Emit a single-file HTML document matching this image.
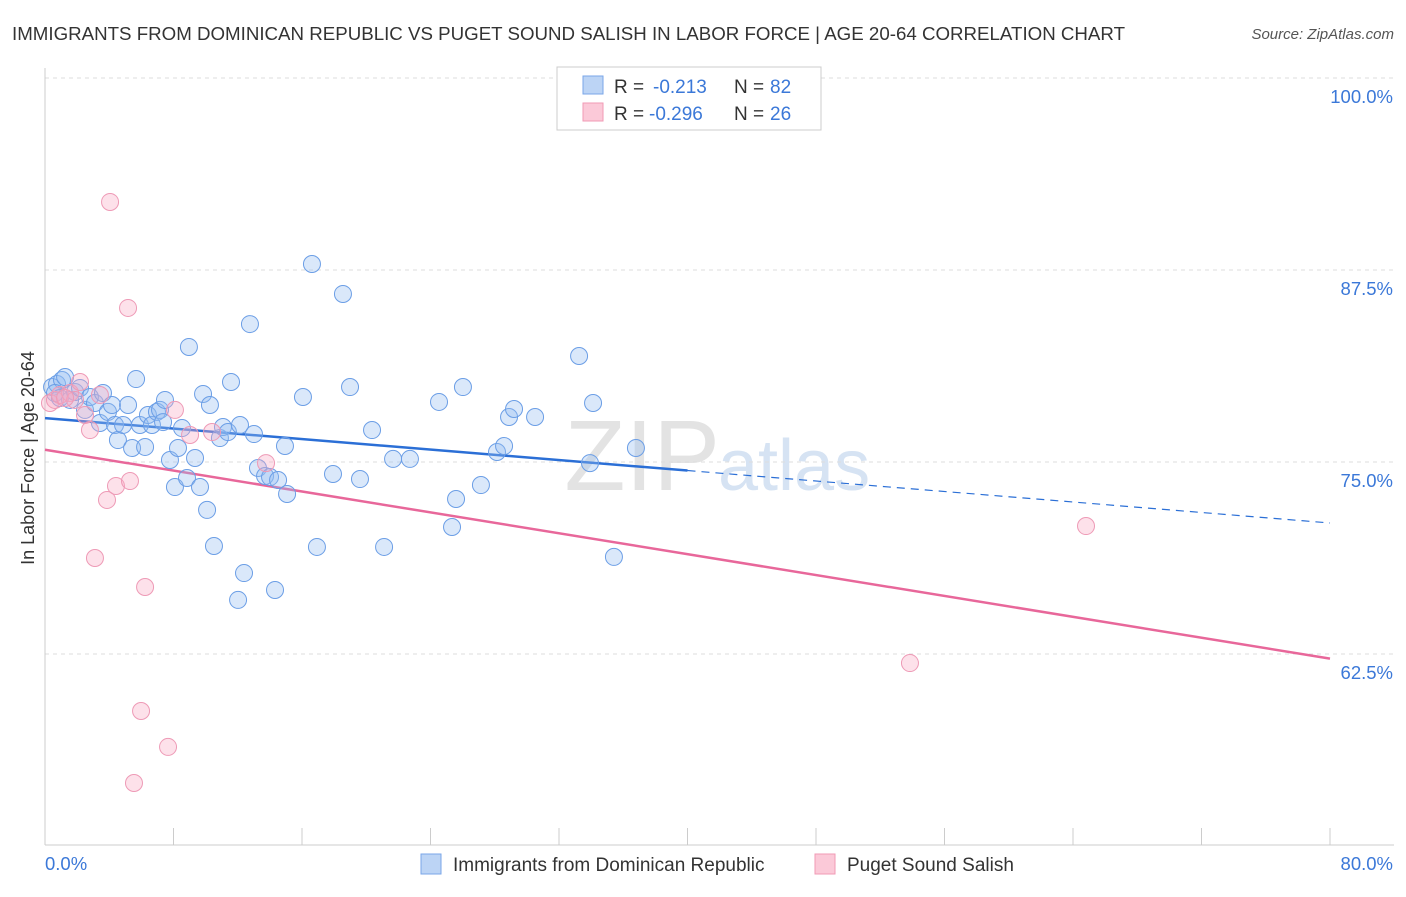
<!DOCTYPE html>
<html><head><meta charset="utf-8"><style>
body{margin:0;background:#fff;font-family:"Liberation Sans",sans-serif;}
svg text{font-family:"Liberation Sans",sans-serif;}
</style></head><body>
<svg id="chart" width="1406" height="892" viewBox="0 0 1406 892" xmlns="http://www.w3.org/2000/svg">
<text x="12" y="40" font-size="18" fill="#333" textLength="1113" lengthAdjust="spacingAndGlyphs">IMMIGRANTS FROM DOMINICAN REPUBLIC VS PUGET SOUND SALISH IN LABOR FORCE | AGE 20-64 CORRELATION CHART</text>
<text x="1394" y="39" font-size="15" fill="#555" font-style="italic" text-anchor="end">Source: ZipAtlas.com</text>
<text x="720" y="490" font-size="100" fill="#e3e3e3" text-anchor="end" font-family="Liberation Serif">ZIP</text>
<text x="718" y="490" font-size="72" fill="#d6e3f3">atlas</text>
<g id="grid"></g><g id="axes"></g><g id="lines"></g><g id="pts"></g>
<text transform="translate(34,458) rotate(-90)" font-size="18" fill="#333" text-anchor="middle">In Labor Force | Age 20-64</text>
<g>
<rect x="557" y="67" width="264" height="63" fill="#fff" stroke="#ccc"/>
<rect x="583" y="76" width="20" height="18" fill="#bcd4f5" stroke="#7aa6e8"/>
<rect x="583" y="103" width="20" height="18" fill="#fbc9d8" stroke="#f09ab5"/>
<text x="614" y="93" font-size="19" fill="#333">R =</text>
<text x="653" y="93" font-size="19" fill="#3b78d8">-0.213</text>
<text x="734" y="93" font-size="19" fill="#333">N =</text>
<text x="770" y="93" font-size="19" fill="#3b78d8">82</text>
<text x="614" y="120" font-size="19" fill="#333">R =</text>
<text x="649" y="120" font-size="19" fill="#3b78d8">-0.296</text>
<text x="734" y="120" font-size="19" fill="#333">N =</text>
<text x="770" y="120" font-size="19" fill="#3b78d8">26</text>
</g>
<g>
<rect x="421" y="854" width="20" height="20" fill="#bcd4f5" stroke="#7aa6e8"/>
<text x="453" y="871" font-size="19" fill="#333">Immigrants from Dominican Republic</text>
<rect x="815" y="854" width="20" height="20" fill="#fbc9d8" stroke="#f09ab5"/>
<text x="847" y="871" font-size="19" fill="#333">Puget Sound Salish</text>
</g>
</svg>
<script>
const yTicks=[100,87.5,75,62.5];
const yTickLabels=["100.0%","87.5%","75.0%","62.5%"];
const xTickCount=10;
const xLabels=["0.0%","80.0%"];
const bluePx=[[52,387],[57,384],[62,380],[65,377],[55,393],[60,398],[70,400],[75,392],[80,388],[85,410],[90,397],[95,403],[100,423],[103,393],[108,412],[112,405],[115,425],[118,440],[123,425],[128,405],[132,448],[136,379],[140,425],[145,447],[148,415],[152,425],[157,412],[160,410],[163,422],[165,400],[170,460],[175,487],[178,448],[182,428],[187,478],[189,347],[195,458],[200,487],[203,394],[207,510],[210,405],[214,546],[220,438],[223,427],[228,432],[231,382],[238,600],[240,425],[244,573],[250,324],[254,434],[258,468],[265,476],[270,477],[275,590],[278,480],[285,446],[287,494],[303,397],[312,264],[317,547],[333,474],[343,294],[350,387],[360,479],[372,430],[384,547],[393,459],[410,459],[439,402],[452,527],[456,499],[463,387],[481,485],[497,452],[504,446],[509,417],[514,409],[535,417],[579,356],[590,463],[593,403],[614,557],[636,448]];
const pinkPx=[[50,403],[55,400],[60,395],[70,393],[75,400],[80,382],[85,415],[90,430],[107,500],[110,202],[116,486],[95,558],[128,308],[130,481],[141,711],[145,587],[134,783],[168,747],[175,410],[190,435],[212,432],[266,463],[1086,526],[910,663],[100,395],[65,398]];
const toX=p=>(p-45)/1285*80, toY=p=>100-(p-78)/192*12.5;
const blueX=bluePx.map(p=>+toX(p[0]).toFixed(2)), blueY=bluePx.map(p=>+toY(p[1]).toFixed(2));
const pinkX=pinkPx.map(p=>+toX(p[0]).toFixed(2)), pinkY=pinkPx.map(p=>+toY(p[1]).toFixed(2));
const blueTrend=[77.86,71.03]; const pinkTrend=[75.8,62.2];
const sx=v=>45+v/80*1285, sy=v=>78+(100-v)/12.5*192;
const NS="http://www.w3.org/2000/svg";
function mk(t,a,parent){const e=document.createElementNS(NS,t);for(const k in a)e.setAttribute(k,a[k]);document.getElementById(parent).appendChild(e);return e;}
yTicks.forEach((t,i)=>{
 const l=mk('line',{x1:45,x2:1394,y1:sy(t),y2:sy(t),stroke:'#ddd','stroke-dasharray':'4,4'},'grid');
 
 
 const tx=mk('text',{x:1393,y:sy(t)+25,'font-size':18.5,fill:'#3b78d8','text-anchor':'end'},'grid');tx.textContent=yTickLabels[i];
 
 
});
const ax=mk('line',{x1:45,x2:45,y1:68,y2:845,stroke:'#ccc'},'axes');


const bx=mk('line',{x1:45,x2:1394,y1:845,y2:845,stroke:'#ccc'},'axes');


for(let i=0;i<=xTickCount;i++){const v=i*80/xTickCount;const t=mk('line',{x1:sx(v),x2:sx(v),y1:828,y2:845,stroke:'#ccc'},'axes');
 
 }
[[0,'start',45],[80,'end',1393]].forEach((d,i)=>{const t=mk('text',{x:d[2],y:870,'font-size':18.5,fill:'#3b78d8','text-anchor':d[1]},'axes');t.textContent=xLabels[i];
 
 });
function trend(a,xEnd,col,dashFrom,name){
 const y=x=>a[0]+(a[1]-a[0])*x/80;
 if(dashFrom){
  const l1=mk('line',{x1:sx(0),y1:sy(y(0)),x2:sx(dashFrom),y2:sy(y(dashFrom)),stroke:col,'stroke-width':2.5},'lines');
  
  
  const l2=mk('line',{x1:sx(dashFrom),y1:sy(y(dashFrom)),x2:sx(xEnd),y2:sy(y(xEnd)),stroke:col,'stroke-width':1.2,'stroke-dasharray':'8,6'},'lines');
  
  
 } else {
  const l=mk('line',{x1:sx(0),y1:sy(y(0)),x2:sx(xEnd),y2:sy(y(xEnd)),stroke:col,'stroke-width':2.5},'lines');
  
  
 }
}
function pts(X,Y,fill,stroke,name){X.forEach((x,i)=>{const c=mk('circle',{cx:sx(x),cy:sy(Y[i]),r:8.5,fill:fill,stroke:stroke,'stroke-width':1},'pts');
 
 });}
pts(blueX,blueY,'rgba(150,190,240,0.35)','#6b9ee6','dominican-point');
pts(pinkX,pinkY,'rgba(248,170,195,0.35)','#ee9ab6','salish-point');
trend(blueTrend,80,'#2b6fd6',40,'dominican-trendline');
trend(pinkTrend,80,'#e8679a',0,'salish-trendline');
</script>
</body></html>
